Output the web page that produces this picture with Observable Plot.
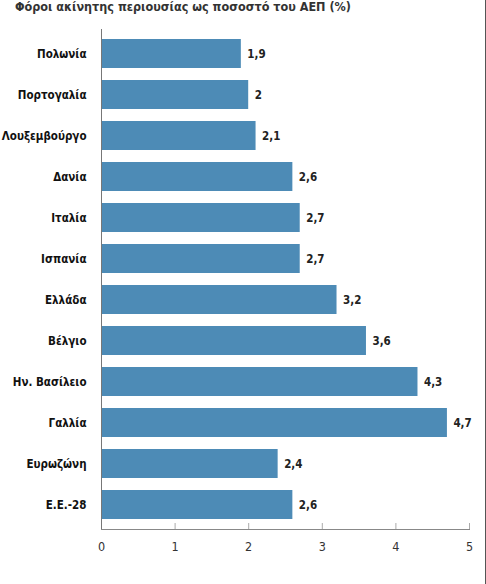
<!DOCTYPE html>
<html>
<head>
<meta charset="utf-8">
<script src="https://cdn.jsdelivr.net/npm/d3@7"></script>
<script src="https://cdn.jsdelivr.net/npm/@observablehq/plot@0.6"></script>
<style>
  html, body { margin: 0; padding: 0; background: #fff; }
  #wrap { position: relative; width: 485px; height: 584px; border-right: 1px solid #555; overflow: hidden; }
  #title { height: 18px; padding-left: 15px; font: bold 12.5px "Liberation Sans Narrow", "DejaVu Sans Condensed", sans-serif; color: #333; line-height: 14px; margin-top: 0px; }
</style>
</head>
<body>
<div id="wrap">
  <div id="title">Φόροι ακίνητης περιουσίας ως ποσοστό του ΑΕΠ (%)</div>
  <div id="chart"></div>
</div>
<script>
const countries = ["Πολωνία", "Πορτογαλία", "Λουξεμβούργο", "Δανία", "Ιταλία", "Ισπανία", "Ελλάδα", "Βέλγιο", "Ην. Βασίλειο", "Γαλλία", "Ευρωζώνη", "Ε.Ε.-28"];
const values = [1.9, 2, 2.1, 2.6, 2.7, 2.7, 3.2, 3.6, 4.3, 4.7, 2.4, 2.6];
const xTicks = [0, 1, 2, 3, 4, 5];

const data = countries.map((c, i) => ({country: c, value: values[i]}));
const fmt = v => String(v).replace(".", ",");
const H = 566, MT = 11, MB = 55;

const plot = Plot.plot({
  width: 485,
  height: H,
  marginLeft: 101,
  marginRight: 16,
  marginTop: MT,
  marginBottom: MB,
  style: {fontFamily: "'Liberation Sans Narrow', 'DejaVu Sans Condensed', sans-serif", background: "#fff"},
  x: {domain: [0, 5], label: null},
  y: {domain: countries, paddingInner: 0.3, paddingOuter: 0.15, label: null},
  marks: [
    Plot.barX(data, {x: "value", y: "country", fill: "#4d8bb6"}),
    Plot.text(data, {x: "value", y: "country", text: d => fmt(d.value), textAnchor: "start", dx: 6, fontWeight: "bold", fontSize: 11.5, fill: "#222"}),
    Plot.ruleX([0], {stroke: "#777"}),
    Plot.frame({anchor: "bottom", stroke: "#888"}),
    Plot.tickX(xTicks.slice(1), {x: d => d, stroke: "#aaa", insetTop: H - MT - MB - 6}),
    Plot.axisX(xTicks, {tickSize: 0, tickPadding: 13, tickFormat: d => d, fontSize: 12.5, fill: "#333", label: null}),
    Plot.axisY({tickSize: 0, tickPadding: 15, fontSize: 11.5, fontWeight: "bold", fill: "#111", label: null})
  ]
});
document.getElementById("chart").appendChild(plot);
</script>
</body>
</html>
